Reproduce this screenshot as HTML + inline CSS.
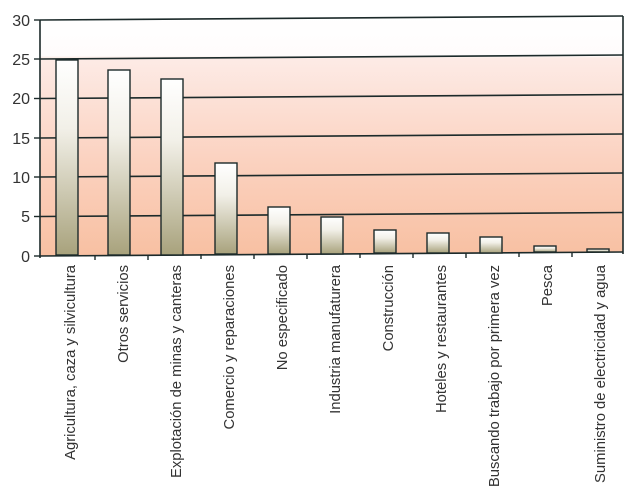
<!DOCTYPE html>
<html><head><meta charset="utf-8"><style>
html,body{margin:0;padding:0;background:#fff;}
svg{display:block;}
text{font-family:"Liberation Sans",Arial,sans-serif;fill:#333;}
</style></head><body>
<svg width="639" height="492" viewBox="0 0 639 492" xmlns="http://www.w3.org/2000/svg">
<defs>
<linearGradient id="bg" x1="0" y1="0" x2="0" y2="1">
<stop offset="0" stop-color="#ffffff"/>
<stop offset="0.165" stop-color="#fffcfc"/>
<stop offset="0.175" stop-color="#fdebe6"/>
<stop offset="0.6" stop-color="#fbd2c0"/>
<stop offset="1" stop-color="#f8c0a2"/>
</linearGradient>
<linearGradient id="bar" x1="0" y1="0" x2="0" y2="1">
<stop offset="0" stop-color="#ffffff"/>
<stop offset="0.35" stop-color="#f2f0e8"/>
<stop offset="1" stop-color="#a8a27c"/>
</linearGradient>
</defs>
<polygon points="40,20 623,16 623,252 40,256" fill="url(#bg)"/>
<g stroke="#1c2a2a" stroke-width="1.6" fill="none">
<line x1="40" y1="20" x2="623" y2="16"/>
<line x1="40" y1="59" x2="623" y2="55"/>
<line x1="40" y1="98.5" x2="623" y2="94.5"/>
<line x1="40" y1="138" x2="623" y2="134"/>
<line x1="40" y1="177" x2="623" y2="173"/>
<line x1="40" y1="216.5" x2="623" y2="212.5"/>
<line x1="40" y1="256" x2="623" y2="252"/>
<line x1="40" y1="20" x2="40" y2="258"/>
<line x1="623" y1="16" x2="623" y2="254"/>
</g>
<g stroke="#1c2a2a" stroke-width="1.4">
<line x1="34" y1="20" x2="40" y2="20"/><line x1="34" y1="59" x2="40" y2="59"/>
<line x1="34" y1="98.5" x2="40" y2="98.5"/><line x1="34" y1="138" x2="40" y2="138"/>
<line x1="34" y1="177" x2="40" y2="177"/><line x1="34" y1="216.5" x2="40" y2="216.5"/>
<line x1="34" y1="256" x2="40" y2="256"/>
<line x1="95" y1="255" x2="95" y2="260"/><line x1="148" y1="255" x2="148" y2="260"/>
<line x1="201" y1="254" x2="201" y2="259"/><line x1="254" y1="254" x2="254" y2="259"/>
<line x1="307" y1="254" x2="307" y2="259"/><line x1="360" y1="253" x2="360" y2="258"/>
<line x1="413" y1="253" x2="413" y2="258"/><line x1="466" y1="253" x2="466" y2="258"/>
<line x1="519" y1="252" x2="519" y2="257"/><line x1="572" y1="252" x2="572" y2="257"/>
</g>
<g fill="url(#bar)" stroke="#1c2a2a" stroke-width="1.4">
<rect x="56" y="60" width="22" height="195"/>
<rect x="108" y="70" width="22" height="185"/>
<rect x="161" y="79" width="22" height="176"/>
<rect x="215" y="163" width="22" height="91"/>
<rect x="268" y="207" width="22" height="47"/>
<rect x="321" y="217" width="22" height="37"/>
<rect x="374" y="230" width="22" height="23"/>
<rect x="427" y="233" width="22" height="20"/>
<rect x="480" y="237" width="22" height="16"/>
<rect x="534" y="246" width="22" height="6"/>
<rect x="587" y="249" width="22" height="3"/>
</g>
<g font-size="16" text-anchor="end">
<text x="30" y="26">30</text><text x="30" y="65">25</text><text x="30" y="104">20</text>
<text x="30" y="144">15</text><text x="30" y="183">10</text><text x="30" y="222">5</text>
<text x="30" y="262">0</text>
</g>
<g font-size="14.8" text-anchor="end">
<text transform="translate(75,265) rotate(-90)">Agricultura, caza y silvicultura</text>
<text transform="translate(128,265) rotate(-90)">Otros servicios</text>
<text transform="translate(181,265) rotate(-90)">Explotación de minas y canteras</text>
<text transform="translate(234,265) rotate(-90)">Comercio y reparaciones</text>
<text transform="translate(287,265) rotate(-90)">No especificado</text>
<text transform="translate(340,265) rotate(-90)">Industria manufaturera</text>
<text transform="translate(393,265) rotate(-90)">Construcción</text>
<text transform="translate(446,265) rotate(-90)">Hoteles y restaurantes</text>
<text transform="translate(499,265) rotate(-90)">Buscando trabajo por primera vez</text>
<text transform="translate(552,265) rotate(-90)">Pesca</text>
<text transform="translate(605,265) rotate(-90)">Suministro de electricidad y agua</text>
</g>
</svg>
</body></html>
